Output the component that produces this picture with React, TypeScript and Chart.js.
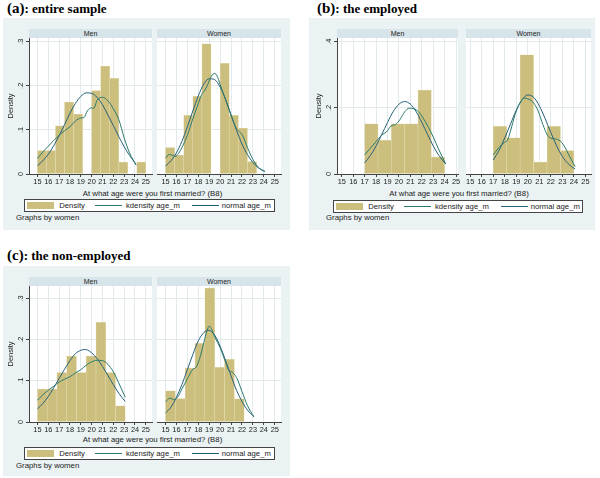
import React, { useEffect, useRef } from "react";
import { Chart, registerables } from "chart.js";

Chart.register(...registerables);

type Pt = [number, number];

// ---------- shared labels / ticks ----------
const X_TICKS = [15, 16, 17, 18, 19, 20, 21, 22, 23, 24, 25];
const Y_TICKS_AC = [0, 0.1, 0.2, 0.3];
const Y_LABELS_AC = ["0", ".1", ".2", ".3"];
const Y_TICKS_B = [0, 0.2, 0.4];
const Y_LABELS_B = ["0", ".2", ".4"];
const GROUPS = ["Men", "Women"];
const LEGEND_LABELS = ["Density", "kdensity age_m", "normal age_m"];
const X_TITLE = "At what age were you first married? (B8)";
const Y_TITLE = "Density";
const NOTE = "Graphs by women";

// ---------- (a) entire sample ----------
const A_BIN_START = 15;
const A_BIN_WIDTH = 10 / 12;
const A_MEN_DENSITY = [0.053, 0.053, 0.109, 0.163, 0.136, 0, 0.189, 0.245, 0.217, 0.027, 0, 0.027];
const A_WOMEN_DENSITY = [0.06, 0.043, 0.133, 0.176, 0.295, 0, 0.251, 0.133, 0.104, 0.028, 0, 0];
const A_MEN_KDENSITY: Pt[] = [
  [15, 0.035], [15.5, 0.05], [16, 0.063], [16.5, 0.076], [17, 0.088], [17.5, 0.098], [18, 0.107],
  [18.5, 0.12], [19, 0.127], [19.3, 0.128], [19.6, 0.143], [20, 0.15], [20.2, 0.149], [20.5, 0.167],
  [21, 0.174], [21.5, 0.166], [22, 0.148], [22.5, 0.124], [23, 0.082], [23.5, 0.048], [24.1, 0.02],
];
const A_MEN_NORMAL: Pt[] = [
  [15, 0.019], [15.5, 0.03], [16, 0.045], [16.5, 0.064], [17, 0.087], [17.5, 0.112], [18, 0.138],
  [18.5, 0.16], [19, 0.176], [19.5, 0.184], [20, 0.183], [20.5, 0.174], [21, 0.157], [21.5, 0.134],
  [22, 0.11], [22.5, 0.085], [23, 0.062], [23.5, 0.042], [24.1, 0.022],
];
const A_WOMEN_KDENSITY: Pt[] = [
  [15, 0.036], [15.3, 0.044], [15.6, 0.043], [15.9, 0.04], [16.2, 0.047], [16.6, 0.065], [17, 0.088],
  [17.5, 0.125], [18, 0.16], [18.3, 0.18], [18.6, 0.19], [18.9, 0.205], [19.2, 0.222], [19.5, 0.228],
  [19.8, 0.218], [20, 0.203], [20.5, 0.168], [21, 0.133], [21.5, 0.103], [21.8, 0.095], [22.1, 0.085],
  [22.5, 0.06], [23, 0.033], [23.5, 0.015], [24.1, 0.005],
];
const A_WOMEN_NORMAL: Pt[] = [
  [15, 0.018], [15.5, 0.03], [16, 0.048], [16.5, 0.074], [17, 0.107], [17.5, 0.143], [18, 0.177],
  [18.5, 0.204], [19, 0.216], [19.5, 0.214], [20, 0.197], [20.5, 0.169], [21, 0.134], [21.5, 0.099],
  [22, 0.068], [22.5, 0.044], [23, 0.026], [23.5, 0.014], [24.1, 0.006],
];

// ---------- (b) the employed ----------
const B_BIN_START = 17;
const B_BIN_WIDTH = 7 / 6;
const B_MEN_DENSITY = [0.152, 0.102, 0.152, 0.152, 0.254, 0.051];
const B_WOMEN_DENSITY = [0.144, 0.109, 0.36, 0.036, 0.144, 0.071];
const B_MEN_KDENSITY: Pt[] = [
  [17, 0.058], [17.5, 0.078], [18, 0.098], [18.5, 0.118], [18.9, 0.127], [19.3, 0.145], [19.7, 0.15],
  [20.1, 0.165], [20.5, 0.188], [20.9, 0.199], [21.3, 0.197], [21.7, 0.189], [22.1, 0.17], [22.6, 0.14],
  [23, 0.112], [23.5, 0.073], [24.1, 0.03],
];
const B_MEN_NORMAL: Pt[] = [
  [17, 0.034], [17.5, 0.056], [18, 0.085], [18.5, 0.12], [19, 0.156], [19.5, 0.189], [20, 0.211],
  [20.5, 0.219], [21, 0.211], [21.5, 0.189], [22, 0.156], [22.5, 0.12], [23, 0.085], [23.5, 0.056],
  [24.1, 0.03],
];
const B_WOMEN_KDENSITY: Pt[] = [
  [17, 0.058], [17.5, 0.08], [18, 0.096], [18.2, 0.1], [18.5, 0.13], [18.9, 0.18], [19.3, 0.214],
  [19.7, 0.229], [20.1, 0.226], [20.5, 0.215], [20.9, 0.19], [21.3, 0.15], [21.7, 0.118], [22, 0.108],
  [22.4, 0.106], [22.8, 0.1], [23.1, 0.088], [23.6, 0.055], [24.1, 0.022],
];
const B_WOMEN_NORMAL: Pt[] = [
  [17, 0.042], [17.5, 0.071], [18, 0.109], [18.5, 0.151], [19, 0.193], [19.5, 0.224], [20, 0.239],
  [20.5, 0.232], [21, 0.206], [21.5, 0.168], [22, 0.125], [22.5, 0.085], [23, 0.053], [23.5, 0.031],
  [24.1, 0.015],
];

// ---------- (c) the non-employed ----------
const C_BIN_START = 15;
const C_BIN_WIDTH = 0.9;
const C_MEN_DENSITY = [0.08, 0.08, 0.12, 0.16, 0.12, 0.16, 0.242, 0.12, 0.039];
const C_WOMEN_DENSITY = [0.076, 0.057, 0.131, 0.191, 0.325, 0.133, 0.152, 0.056];
const C_MEN_KDENSITY: Pt[] = [
  [15, 0.053], [15.5, 0.066], [16, 0.077], [16.5, 0.087], [17, 0.097], [17.5, 0.104], [18, 0.11],
  [18.5, 0.119], [19, 0.127], [19.5, 0.138], [20, 0.146], [20.5, 0.15], [21, 0.149], [21.5, 0.14],
  [22, 0.122], [22.5, 0.095], [23.1, 0.06],
];
const C_MEN_NORMAL: Pt[] = [
  [15, 0.032], [15.5, 0.045], [16, 0.062], [16.5, 0.083], [17, 0.106], [17.5, 0.128], [18, 0.149],
  [18.5, 0.166], [19, 0.174], [19.3, 0.176], [19.6, 0.175], [20, 0.168], [20.5, 0.154], [21, 0.135],
  [21.5, 0.113], [22, 0.091], [22.5, 0.07], [23.1, 0.05],
];
const C_WOMEN_KDENSITY: Pt[] = [
  [15, 0.049], [15.4, 0.058], [15.8, 0.054], [16.1, 0.06], [16.5, 0.08], [17, 0.105], [17.5, 0.128],
  [17.8, 0.133], [18.1, 0.152], [18.5, 0.192], [18.8, 0.222], [19, 0.233], [19.25, 0.224],
  [19.5, 0.207], [20, 0.18], [20.5, 0.145], [20.8, 0.125], [21.1, 0.121], [21.5, 0.108], [22, 0.074],
  [22.5, 0.04], [23.1, 0.012],
];
const C_WOMEN_NORMAL: Pt[] = [
  [15, 0.022], [15.5, 0.036], [16, 0.06], [16.5, 0.091], [17, 0.127], [17.5, 0.164], [18, 0.197],
  [18.5, 0.217], [18.9, 0.223], [19.5, 0.211], [20, 0.184], [20.5, 0.149], [21, 0.112], [21.5, 0.077],
  [22, 0.05], [22.5, 0.029], [23.1, 0.013],
];

// ---------- styles ----------
const SANS = "'Liberation Sans', Arial, Helvetica, sans-serif";
const SERIF = "'Liberation Serif', 'Times New Roman', Times, serif";
const BG = "#eaf2f3";
const STRIP = "#d7e4ea";
const GRID = "#e3eaec";
const AXIS = "#444444";
const TEXT = "#222222";
const BAR = "#ccbf7e";
const BAR_EDGE = "#e6dfb8";
const KDE_COLOR = "#2c7a6e";
const NORM_COLOR = "#25607a";
const PAD_RIGHT = 8;

const plotBg = {
  id: "plotBg",
  beforeDraw(chart: any) {
    const { ctx, chartArea: a } = chart;
    ctx.save();
    ctx.fillStyle = "#ffffff";
    ctx.fillRect(a.left, a.top, a.right - a.left, a.bottom - a.top);
    ctx.restore();
  },
};

interface SubProps {
  left: number;
  top: number;
  width: number;
  height: number;
  showAxis: boolean;
  xMin: number;
  xMax: number;
  yMax: number;
  yTicks: number[];
  yLabels: string[];
  binStart: number;
  binWidth: number;
  density: number[];
  kde: Pt[];
  norm: Pt[];
}

function SubPlot(p: SubProps) {
  const ref = useRef<HTMLCanvasElement>(null);
  const cw = p.width + PAD_RIGHT;
  useEffect(() => {
    const canvas = ref.current;
    if (!canvas) return;
    const bars = p.density.map((d, i) => ({ x: p.binStart + (i + 0.5) * p.binWidth, y: d }));
    const chart = new Chart(canvas, {
      type: "bar",
      data: {
        datasets: [
          {
            type: "line",
            label: LEGEND_LABELS[1],
            data: p.kde.map(([x, y]) => ({ x, y })),
            borderColor: KDE_COLOR,
            borderWidth: 1,
            pointRadius: 0,
            cubicInterpolationMode: "monotone",
            fill: false,
            order: 0,
          } as any,
          {
            type: "line",
            label: LEGEND_LABELS[2],
            data: p.norm.map(([x, y]) => ({ x, y })),
            borderColor: NORM_COLOR,
            borderWidth: 1,
            pointRadius: 0,
            cubicInterpolationMode: "monotone",
            fill: false,
            order: 0,
          } as any,
          {
            type: "bar",
            label: LEGEND_LABELS[0],
            data: bars,
            backgroundColor: BAR,
            borderColor: BAR_EDGE,
            borderWidth: 0.5,
            borderSkipped: false,
            barThickness: "flex",
            barPercentage: 1,
            categoryPercentage: 1,
            order: 1,
          } as any,
        ],
      },
      options: {
        animation: false,
        responsive: false,
        maintainAspectRatio: false,
        devicePixelRatio: 1,
        layout: { padding: { top: 8, left: 0, right: PAD_RIGHT, bottom: 0 } },
        plugins: {
          legend: { display: false },
          tooltip: { enabled: false },
        },
        scales: {
          x: {
            type: "linear",
            position: "bottom",
            offset: false,
            min: p.xMin,
            max: p.xMax,
            afterBuildTicks: (s: any) => {
              s.ticks = X_TICKS.map((v) => ({ value: v }));
            },
            afterFit: (s: any) => {
              s.height = 13;
              s.paddingLeft = 0;
              s.paddingRight = 0;
              s.paddingTop = 0;
              s.paddingBottom = 0;
            },
            grid: { offset: false, color: GRID, lineWidth: 1, tickColor: AXIS, tickLength: 3, drawTicks: true },
            border: { display: true, color: AXIS, width: 1 },
            ticks: {
              color: TEXT,
              font: { family: SANS, size: 7.4 },
              padding: 0.5,
              autoSkip: false,
              maxRotation: 0,
              minRotation: 0,
              callback: (v: any) => String(v),
            },
          },
          y: {
            type: "linear",
            position: "left",
            min: 0,
            max: p.yMax,
            afterBuildTicks: (s: any) => {
              s.ticks = p.yTicks.map((v) => ({ value: v }));
            },
            afterFit: (s: any) => {
              s.width = p.showAxis ? 29 : 0;
              s.paddingTop = 0;
              s.paddingBottom = 0;
              s.paddingLeft = 0;
              s.paddingRight = 0;
            },
            grid: { color: GRID, lineWidth: 1, tickColor: AXIS, tickLength: 3, drawTicks: p.showAxis },
            border: { display: p.showAxis, color: AXIS, width: 1 },
            ticks: {
              display: p.showAxis,
              color: TEXT,
              font: { family: SANS, size: 7.4 },
              padding: 1.5,
              minRotation: 90,
              maxRotation: 90,
              crossAlign: "center",
              autoSkip: false,
              callback: (_v: any, i: number) => p.yLabels[i],
            },
            title: {
              display: p.showAxis,
              text: Y_TITLE,
              color: TEXT,
              font: { family: SANS, size: 7.5 },
              padding: { top: 6, bottom: 0 },
            },
          },
        },
      } as any,
      plugins: [plotBg],
    });
    return () => chart.destroy();
  }, []);
  return (
    <canvas
      ref={ref}
      width={cw}
      height={p.height}
      style={{ position: "absolute", left: p.left, top: p.top, width: cw, height: p.height }}
    />
  );
}

function Title({ left, top, tag, text }: { left: number; top: number; tag: string; text: string }) {
  return (
    <div
      style={{
        position: "absolute",
        left,
        top,
        fontFamily: SERIF,
        fontWeight: "bold",
        fontSize: 13,
        lineHeight: "16px",
        whiteSpace: "nowrap",
        color: "#000",
      }}
    >
      <span style={{ fontSize: 15 }}>{tag}</span>
      {text}
    </div>
  );
}

function Strip({ left, top, width, label }: { left: number; top: number; width: number; label: string }) {
  return (
    <div
      style={{
        position: "absolute",
        left,
        top,
        width,
        height: 9,
        background: STRIP,
        fontFamily: SANS,
        fontSize: 7,
        lineHeight: "9px",
        textAlign: "center",
        color: TEXT,
        whiteSpace: "nowrap",
      }}
    >
      {label}
    </div>
  );
}

function TextAt({ left, top, width, text, center }: { left: number; top: number; width?: number; text: string; center?: boolean }) {
  return (
    <div
      style={{
        position: "absolute",
        left,
        top,
        width,
        fontFamily: SANS,
        fontSize: 7.8,
        lineHeight: "10px",
        textAlign: center ? "center" : "left",
        color: TEXT,
        whiteSpace: "nowrap",
      }}
    >
      {text}
    </div>
  );
}

function Legend({ left, top, width }: { left: number; top: number; width: number }) {
  const txt = (l: number, s: string) => (
    <div
      style={{
        position: "absolute",
        left: l,
        top: 0,
        fontFamily: SANS,
        fontSize: 7.7,
        lineHeight: "11px",
        color: TEXT,
        whiteSpace: "nowrap",
      }}
    >
      {s}
    </div>
  );
  const line = (l: number, c: string) => (
    <div style={{ position: "absolute", left: l, top: 5, width: 27, height: 0, borderTop: `1px solid ${c}` }} />
  );
  return (
    <div
      style={{
        position: "absolute",
        left,
        top,
        width,
        height: 13,
        boxSizing: "border-box",
        border: `1px solid ${AXIS}`,
        background: "#fff",
      }}
    >
      <div style={{ position: "absolute", left: 2.3, top: 1.8, width: 27, height: 7.5, background: BAR }} />
      {txt(34.3, LEGEND_LABELS[0])}
      {line(70, KDE_COLOR)}
      {txt(101, LEGEND_LABELS[1])}
      {line(166.7, NORM_COLOR)}
      {txt(196.7, LEGEND_LABELS[2])}
    </div>
  );
}

export default function App() {
  return (
    <div style={{ position: "absolute", left: 0, top: 0, width: 600, height: 478, background: "#fff", overflow: "hidden" }}>
      {/* ---------- (a) ---------- */}
      <Title left={7} top={0} tag="(a)" text=": entire sample" />
      <div style={{ position: "absolute", left: 3, top: 18, width: 287, height: 212, background: BG }} />
      <Strip left={29} top={29} width={123} label={GROUPS[0]} />
      <Strip left={157} top={29} width={124} label={GROUPS[1]} />
      <SubPlot
        left={0} top={30} width={152} height={157} showAxis={true}
        xMin={14.22} xMax={25.57} yMax={0.3084} yTicks={Y_TICKS_AC} yLabels={Y_LABELS_AC}
        binStart={A_BIN_START} binWidth={A_BIN_WIDTH} density={A_MEN_DENSITY}
        kde={A_MEN_KDENSITY} norm={A_MEN_NORMAL}
      />
      <SubPlot
        left={157} top={30} width={124} height={157} showAxis={false}
        xMin={14.22} xMax={25.57} yMax={0.3084} yTicks={Y_TICKS_AC} yLabels={Y_LABELS_AC}
        binStart={A_BIN_START} binWidth={A_BIN_WIDTH} density={A_WOMEN_DENSITY}
        kde={A_WOMEN_KDENSITY} norm={A_WOMEN_NORMAL}
      />
      <TextAt left={24} top={188.5} width={257} text={X_TITLE} center />
      <Legend left={24} top={199} width={251} />
      <TextAt left={16} top={213} text={NOTE} />

      {/* ---------- (b) ---------- */}
      <Title left={317} top={0} tag="(b)" text=": the employed" />
      <div style={{ position: "absolute", left: 309, top: 18, width: 286, height: 212, background: BG }} />
      <Strip left={337} top={29} width={121} label={GROUPS[0]} />
      <Strip left={466} top={29} width={125} label={GROUPS[1]} />
      <SubPlot
        left={308} top={30} width={150} height={157} showAxis={true}
        xMin={14.575} xMax={25.17} yMax={0.4112} yTicks={Y_TICKS_B} yLabels={Y_LABELS_B}
        binStart={B_BIN_START} binWidth={B_BIN_WIDTH} density={B_MEN_DENSITY}
        kde={B_MEN_KDENSITY} norm={B_MEN_NORMAL}
      />
      <SubPlot
        left={466} top={30} width={125} height={157} showAxis={false}
        xMin={14.64} xMax={25.48} yMax={0.4112} yTicks={Y_TICKS_B} yLabels={Y_LABELS_B}
        binStart={B_BIN_START} binWidth={B_BIN_WIDTH} density={B_WOMEN_DENSITY}
        kde={B_WOMEN_KDENSITY} norm={B_WOMEN_NORMAL}
      />
      <TextAt left={333} top={188.5} width={252} text={X_TITLE} center />
      <Legend left={333} top={200} width={250} />
      <TextAt left={326} top={213} text={NOTE} />

      {/* ---------- (c) ---------- */}
      <Title left={7} top={247} tag="(c)" text=": the non-employed" />
      <div style={{ position: "absolute", left: 3, top: 266, width: 287, height: 210, background: BG }} />
      <Strip left={29} top={277} width={123} label={GROUPS[0]} />
      <Strip left={157} top={277} width={124} label={GROUPS[1]} />
      <SubPlot
        left={0} top={278} width={152} height={157} showAxis={true}
        xMin={14.22} xMax={25.57} yMax={0.3303} yTicks={Y_TICKS_AC} yLabels={Y_LABELS_AC}
        binStart={C_BIN_START} binWidth={C_BIN_WIDTH} density={C_MEN_DENSITY}
        kde={C_MEN_KDENSITY} norm={C_MEN_NORMAL}
      />
      <SubPlot
        left={157} top={278} width={124} height={157} showAxis={false}
        xMin={14.22} xMax={25.57} yMax={0.3303} yTicks={Y_TICKS_AC} yLabels={Y_LABELS_AC}
        binStart={C_BIN_START} binWidth={C_BIN_WIDTH} density={C_WOMEN_DENSITY}
        kde={C_WOMEN_KDENSITY} norm={C_WOMEN_NORMAL}
      />
      <TextAt left={24} top={435} width={257} text={X_TITLE} center />
      <Legend left={24} top={447} width={251} />
      <TextAt left={16} top={460.5} text={NOTE} />
    </div>
  );
}
